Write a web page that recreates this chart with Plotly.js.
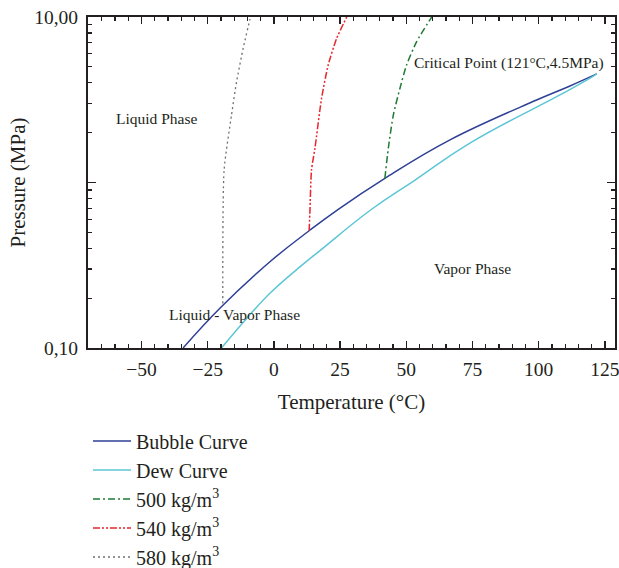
<!DOCTYPE html>
<html>
<head>
<meta charset="utf-8">
<script src="https://cdn.plot.ly/plotly-3.0.1.min.js"></script>
<style>html,body{margin:0;padding:0;background:#fff;}#chart{width:619px;height:568px;}</style>
</head>
<body>
<div id="chart"></div>
<script>
// Bubble curve (saturated liquid)
const bubbleT = [-34.3, -20.4, -1.5, 13.3, 24.3, 41.9, 66.5, 99.2, 111.8, 121.9];
const bubbleP = [0.100, 0.174, 0.332, 0.511, 0.689, 1.06, 1.81, 3.15, 3.83, 4.53];
// Dew curve (saturated vapor)
const dewT = [-19.8, -10.3, -1.5, 9.8, 17.4, 36.9, 53.3, 74.0, 108.0, 119.4, 121.9];
const dewP = [0.100, 0.151, 0.214, 0.309, 0.388, 0.689, 1.035, 1.73, 3.38, 4.27, 4.53];
// Isochores
const iso500T = [41.9, 43.2, 45.1, 47.6, 50.1, 53.9, 59.6];
const iso500P = [1.06, 1.61, 2.56, 3.71, 5.13, 7.1, 10];
const iso540T = [13.3, 13.6, 14.2, 15.5, 18.0, 20.5, 23.7, 27.5];
const iso540P = [0.511, 0.667, 1.19, 1.61, 3.23, 5.13, 7.43, 10];
const iso580T = [-19.3, -18.8, -16.0, -14.1, -11.6, -9.1, -8.8];
const iso580P = [0.186, 1.19, 2.56, 4.06, 6.48, 9.6, 10];

const seriesNames = ['Bubble Curve', 'Dew Curve', '500 kg/m<sup>3</sup>', '540 kg/m<sup>3</sup>', '580 kg/m<sup>3</sup>'];
const xTickVals = [-50, -25, 0, 25, 50, 75, 100, 125];
const yTickVals = [0.1, 1, 10];
const yTickText = ['0,10', '', '10,00'];
const yMinorVals = [0.2, 0.3, 0.4, 0.5, 0.6, 0.7, 0.8, 0.9, 2, 3, 4, 5, 6, 7, 8, 9];

const FONT = '"Liberation Serif", "Times New Roman", serif';
const INK = '#231f20';

const traces = [
  {x: bubbleT, y: bubbleP, name: seriesNames[0], mode: 'lines', line: {color: '#2e3f96', width: 1.5, shape: 'spline', smoothing: 1.2}},
  {x: dewT, y: dewP, name: seriesNames[1], mode: 'lines', line: {color: '#5cc6d6', width: 1.5, shape: 'spline', smoothing: 1.3}},
  {x: iso500T, y: iso500P, name: seriesNames[2], mode: 'lines', line: {color: '#1f7a34', width: 1.5, dash: '7px,3px,2px,3px', shape: 'spline', smoothing: 0.6}},
  {x: iso540T, y: iso540P, name: seriesNames[3], mode: 'lines', line: {color: '#e8262b', width: 1.5, dash: '7px,2px,2px,2px,2px,2px', shape: 'spline', smoothing: 0.6}},
  {x: iso580T, y: iso580P, name: seriesNames[4], mode: 'lines', line: {color: '#707070', width: 1.3, dash: '2px,3px', shape: 'spline', smoothing: 0.6}}
];

const layout = {
  width: 619, height: 568,
  margin: {l: 88, r: 4, t: 17, b: 220, autoexpand: false},
  paper_bgcolor: '#fff', plot_bgcolor: '#fff',
  font: {family: FONT, color: INK, size: 19.5},
  showlegend: true,
  legend: {x: 0, xanchor: 'left', y: -0.222, yanchor: 'top', orientation: 'v', font: {family: FONT, size: 20, color: INK}, bgcolor: 'rgba(0,0,0,0)', itemwidth: 38},
  xaxis: {
    range: [-70.2, 128.8], automargin: false,
    tickmode: 'array', tickvals: xTickVals,
    ticks: 'inside', ticklen: 7, tickwidth: 1.5, tickcolor: INK,
    showline: true, linewidth: 2, linecolor: INK, mirror: 'ticks',
    showgrid: false, zeroline: false,
    ticklabelstandoff: 3, ticklabeloverflow: 'allow',
    tickfont: {family: FONT, size: 19.5, color: INK},
    minor: {dtick: 5, tick0: 0, ticks: 'inside', ticklen: 4, tickwidth: 1.2, tickcolor: INK, showgrid: false},
    title: {text: 'Temperature (°C)', standoff: 15, font: {family: FONT, size: 21, color: INK}}
  },
  yaxis: {
    type: 'log', range: [-1, 1], automargin: false,
    tickmode: 'array', tickvals: yTickVals, ticktext: yTickText,
    ticks: 'inside', ticklen: 8, tickwidth: 1.5, tickcolor: INK,
    showline: true, linewidth: 2, linecolor: INK, mirror: 'ticks',
    showgrid: false, zeroline: false,
    ticklabelstandoff: 4, ticklabeloverflow: 'allow',
    tickfont: {family: FONT, size: 19.5, color: INK},
    minor: {tickmode: 'array', tickvals: yMinorVals, ticks: 'inside', ticklen: 4, tickwidth: 1.2, tickcolor: INK, showgrid: false},
    title: {text: 'Pressure (MPa)', standoff: 3, font: {family: FONT, size: 21, color: INK}}
  },
  annotations: [
    {text: 'Liquid Phase', x: -44.2, y: Math.log10(2.45), xref: 'x', yref: 'y', showarrow: false, font: {family: FONT, size: 15.5, color: INK}},
    {text: 'Liquid - Vapor Phase', x: -14.7, y: Math.log10(0.159), xref: 'x', yref: 'y', showarrow: false, font: {family: FONT, size: 15.5, color: INK}},
    {text: 'Vapor Phase', x: 75, y: Math.log10(0.303), xref: 'x', yref: 'y', showarrow: false, font: {family: FONT, size: 15.5, color: INK}},
    {text: 'Critical Point (121°C,4.5MPa)', x: 88.8, y: Math.log10(5.25), xref: 'x', yref: 'y', showarrow: false, font: {family: FONT, size: 15.5, color: INK}}
  ]
};

Plotly.newPlot('chart', traces, layout, {displayModeBar: false, staticPlot: true});
</script>
</body>
</html>
